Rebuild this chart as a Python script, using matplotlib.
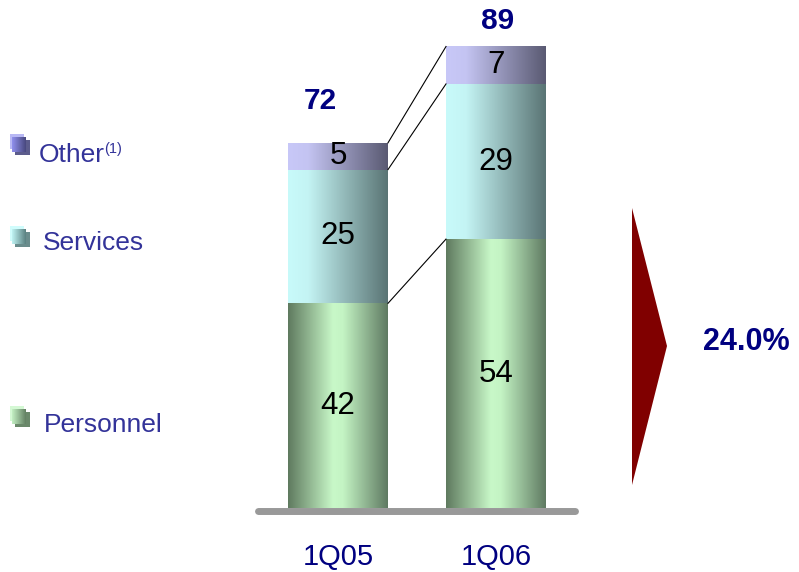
import numpy as np
import matplotlib
matplotlib.use("Agg")
import matplotlib.pyplot as plt
from matplotlib.patches import Rectangle, Polygon
from matplotlib.colors import to_rgb

plt.rcParams['font.family'] = ['Liberation Sans', 'DejaVu Sans']

# ---- data ----
categories = ["1Q05", "1Q06"]
series_names = ["Personnel", "Services", "Other"]
personnel = [42, 54]
services = [25, 29]
other = [5, 7]
totals = [72, 89]
growth_label = "24.0%"

W, H = 799, 572
fig = plt.figure(figsize=(W / 100, H / 100), dpi=100)
fig.patch.set_facecolor("white")

# main axes: bottom at pixel 508, top at pixel 0
ax_bottom_px = 508
ax = fig.add_axes([0, (H - ax_bottom_px) / H, 1, ax_bottom_px / H])
ax.set_facecolor("none")
px_per_unit = 5.35
ymin = (528 - ax_bottom_px) / px_per_unit
ymax = 528 / px_per_unit
xc0, xpu = 338, 158.0
xmin = -xc0 / xpu
xmax = (W - xc0) / xpu
bar_w = 100 / xpu

# gradient definitions (position, color)
grads = {
    "Personnel": [(0.0, "#5f7a5f"), (0.45, "#c8f8c8"), (0.55, "#c4f4c4"), (1.0, "#5f7a62")],
    "Services": [(0.0, "#c8fafa"), (0.2, "#c4f4f4"), (1.0, "#5a7474")],
    "Other": [(0.0, "#c8c8f8"), (0.2, "#c4c4f2"), (1.0, "#5a5a72")],
}


def grad_img(stops, n=200):
    xs = np.linspace(0, 1, n)
    pos = [p for p, _ in stops]
    cols = np.array([to_rgb(c) for _, c in stops])
    img = np.stack([np.interp(xs, pos, cols[:, k]) for k in range(3)], axis=-1)
    return img[np.newaxis, :, :]


x = np.arange(len(categories))
bottoms = np.zeros(len(categories))
layers = {"Personnel": personnel, "Services": services, "Other": other}
tops = {}
for name in series_names:
    vals = np.array(layers[name], dtype=float)
    bars = ax.bar(x, vals, bar_w, bottom=bottoms, facecolor="none", edgecolor="none")
    img = grad_img(grads[name])
    for b in bars:
        x0, y0 = b.get_x(), b.get_y()
        y1 = y0 + b.get_height()
        ax.imshow(img, extent=[x0, x0 + b.get_width(), max(y0, ymin), y1],
                  aspect="auto", interpolation="bilinear", zorder=2)
    # labels at visible centre
    for i, v in enumerate(vals):
        lo = max(bottoms[i], ymin)
        hi = bottoms[i] + v
        ax.text(x[i], (lo + hi) / 2, f"{int(v)}", ha="center", va="center",
                fontsize=22.5, color="black", zorder=5)
    bottoms = bottoms + vals
    tops[name] = bottoms.copy()

# connector lines between bars
for name in series_names:
    t = tops[name]
    ax.plot([x[0] + bar_w / 2, x[1] - bar_w / 2], [t[0], t[1]], color="black", lw=0.8, zorder=3)

# totals
total_dx = [-0.11, 0.01]
total_dy = [30, 18.5]
for i, tval in enumerate(totals):
    ax.annotate(f"{tval}", (x[i] + total_dx[i], tops["Other"][i]), xytext=(0, total_dy[i]),
                textcoords="offset points", ha="center", va="center",
                fontsize=21.5, fontweight="bold", color="#000080")

# baseline
ax.plot([(258 - xc0) / xpu, (575 - xc0) / xpu], [(528 - 511) / px_per_unit] * 2,
        color="#999999", lw=5, solid_capstyle="round", clip_on=False, zorder=4)

ax.set_xlim(xmin, xmax)
ax.set_ylim(ymin, ymax)
ax.set_xticks(x, categories)
ax.tick_params(axis="x", length=0, pad=25, labelsize=21, labelcolor="#000080")
ax.set_yticks([])
for s in ax.spines.values():
    s.set_visible(False)

# overlay axes in pixel coords for legend and arrow
ov = fig.add_axes([0, 0, 1, 1])
ov.set_xlim(0, W)
ov.set_ylim(H, 0)
ov.axis("off")
ov.patch.set_alpha(0)

leg = [
    ("Other", 134, 39, 155, "#b8b8f4", "#5c5c8c", [(0, "#9090ee"), (1, "#48487e")]),
    ("Services", 226, 43, 243, "#d0fcfc", "#6a8c8c", [(0, "#c0f4f4"), (1, "#5a8080")]),
    ("Personnel", 406, 44, 425, "#d4f8d4", "#6a886a", [(0, "#c4f0c4"), (1, "#628062")]),
]
for name, ytop, tx, ty, light, dark, g in leg:
    ov.add_patch(Rectangle((15, ytop + 6), 15, 15, facecolor=dark, edgecolor="none", zorder=1))
    ov.add_patch(Rectangle((10, ytop), 14, 15, facecolor=light, edgecolor="none", zorder=2))
    ov.imshow(grad_img(g), extent=[12, 26, ytop + 18, ytop + 3], aspect="auto", zorder=3)
    ov.text(tx, ty, name, ha="left", va="center", fontsize=19, color="#333399")
ov.text(104, 149, "(1)", ha="left", va="center", fontsize=10.5, color="#333399")

# arrow
ov.add_patch(Polygon([[632, 208], [632, 485], [667, 346]], closed=True,
                     facecolor="#800000", edgecolor="none"))
ov.text(746, 342, growth_label, ha="center", va="center", fontsize=22,
        fontweight="bold", color="#000080")
ov.set_xlim(0, W)
ov.set_ylim(H, 0)

fig.savefig("out.png", dpi=100)
